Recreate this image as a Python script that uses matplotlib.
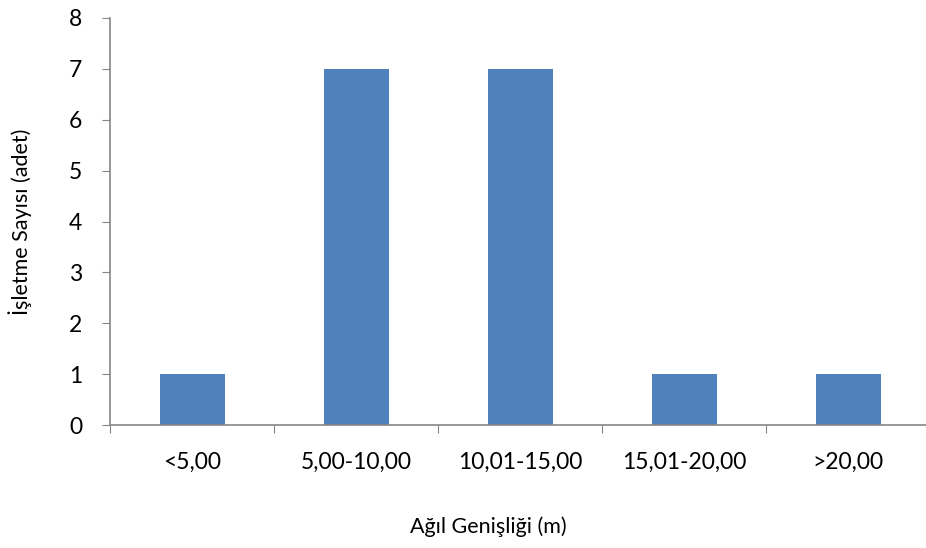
import matplotlib
matplotlib.use("Agg")
import matplotlib.pyplot as plt

categories = ["<5,00", "5,00-10,00", "10,01-15,00", "15,01-20,00", ">20,00"]
counts = [1, 7, 7, 1, 1]
y_ticks = [0, 1, 2, 3, 4, 5, 6, 7, 8]

plt.rcParams["font.family"] = ["Lato", "DejaVu Sans"]
W, H = 926, 548
fig = plt.figure(figsize=(W / 100, H / 100), dpi=100)
ax_h = 425 - 18
ax = fig.add_axes([110 / W, 1 - 425 / H, 820 / W, ax_h / H])

axis_color = "#868686"
x = list(range(len(categories)))
ax.bar(x, counts, width=65 / 164, color="#4F81BD", zorder=2)

ax.set_xlim(-0.5, len(categories) - 0.5)
ax.set_ylim(0, 8)
ax.set_yticks(y_ticks)
ax.set_yticklabels([str(v) for v in y_ticks], fontsize=16.5)

# category boundaries carry the tick marks, labels sit under the bar centres
ax.set_xticks([i - 0.5 for i in range(len(categories) + 1)])
ax.set_xticklabels([])
ax.set_xticks(x, minor=True)
ax.set_xticklabels(categories, minor=True, fontsize=16.5)
ax.tick_params(axis="x", which="minor", length=0, pad=19)
ax.tick_params(axis="x", which="major", length=6, color=axis_color, direction="out")
ax.tick_params(axis="y", length=6, color=axis_color, direction="out", pad=14)

for side in ("top", "right"):
    ax.spines[side].set_visible(False)
for side in ("left", "bottom"):
    ax.spines[side].set_color(axis_color)
    ax.spines[side].set_linewidth(1.2)

ax.set_ylabel("İşletme Sayısı (adet)", fontsize=15.5)
ax.yaxis.set_label_coords((20 - 110) / 820, 0.5)
ax.yaxis.label.set_verticalalignment("center")

ax.set_xlabel("Ağıl Genişliği (m)", fontsize=15.5)
ax.xaxis.set_label_coords((488 - 110) / 820, -(527 - 425) / ax_h)
ax.xaxis.label.set_verticalalignment("center")

fig.savefig("out.png", dpi=100)
